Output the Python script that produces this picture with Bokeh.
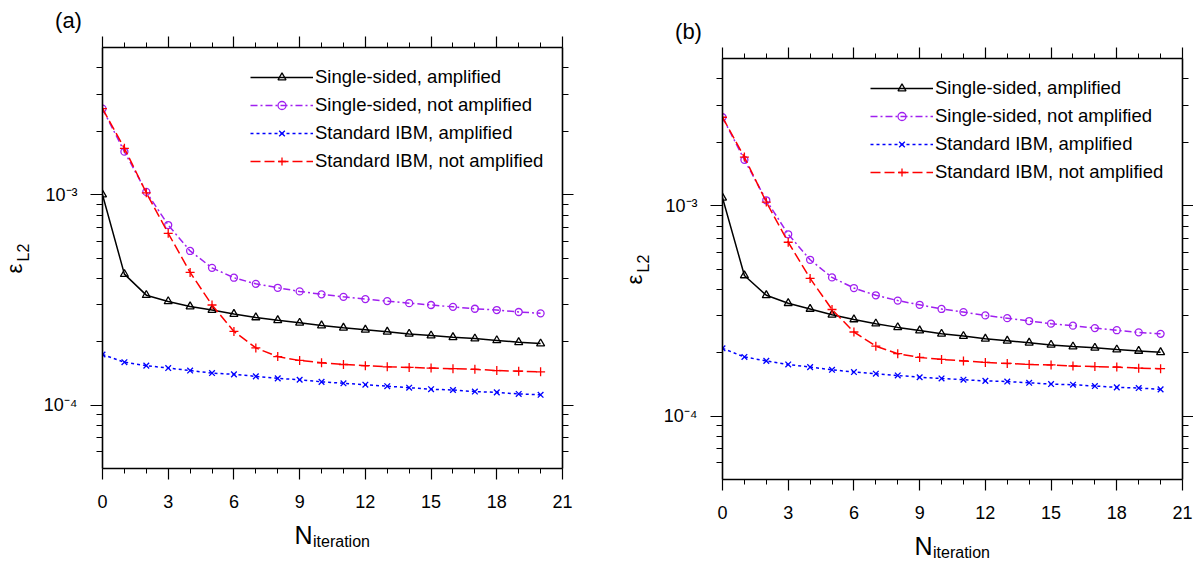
import math
from bokeh.plotting import figure
from bokeh.layouts import row
from bokeh.models import (Range1d, FixedTicker, LinearAxis, LogAxis, Label, Legend,
                          LegendItem, CustomJSTickFormatter, ColumnDataSource)
from bokeh.embed import file_html
from bokeh.resources import INLINE

# ---------------- data ----------------
n_iter = list(range(21))

# panel (a)
a_single_amp = [1.00e-3, 4.19e-4, 3.33e-4, 3.11e-4, 2.94e-4, 2.83e-4, 2.71e-4, 2.61e-4, 2.53e-4,
                2.46e-4, 2.39e-4, 2.33e-4, 2.28e-4, 2.23e-4, 2.18e-4, 2.14e-4, 2.10e-4, 2.07e-4,
                2.03e-4, 1.99e-4, 1.96e-4]
a_single_not = [2.56e-3, 1.60e-3, 1.03e-3, 7.17e-4, 5.40e-4, 4.49e-4, 4.03e-4, 3.77e-4, 3.61e-4,
                3.47e-4, 3.36e-4, 3.27e-4, 3.19e-4, 3.12e-4, 3.05e-4, 2.99e-4, 2.93e-4, 2.87e-4,
                2.83e-4, 2.77e-4, 2.73e-4]
a_ibm_amp = [1.74e-4, 1.60e-4, 1.54e-4, 1.50e-4, 1.46e-4, 1.42e-4, 1.40e-4, 1.37e-4, 1.34e-4,
             1.32e-4, 1.29e-4, 1.27e-4, 1.25e-4, 1.23e-4, 1.21e-4, 1.19e-4, 1.18e-4, 1.16e-4,
             1.15e-4, 1.13e-4, 1.12e-4]
a_ibm_not = [2.56e-3, 1.66e-3, 1.02e-3, 6.55e-4, 4.27e-4, 2.99e-4, 2.24e-4, 1.87e-4, 1.70e-4,
             1.63e-4, 1.59e-4, 1.56e-4, 1.54e-4, 1.52e-4, 1.51e-4, 1.50e-4, 1.49e-4, 1.48e-4,
             1.46e-4, 1.45e-4, 1.44e-4]

# panel (b)
b_single_amp = [1.09e-3, 4.66e-4, 3.75e-4, 3.44e-4, 3.23e-4, 3.03e-4, 2.88e-4, 2.75e-4, 2.64e-4,
                2.55e-4, 2.46e-4, 2.40e-4, 2.33e-4, 2.28e-4, 2.23e-4, 2.18e-4, 2.14e-4, 2.11e-4,
                2.07e-4, 2.04e-4, 2.01e-4]
b_single_not = [2.63e-3, 1.65e-3, 1.06e-3, 7.31e-4, 5.53e-4, 4.56e-4, 4.06e-4, 3.75e-4, 3.54e-4,
                3.38e-4, 3.23e-4, 3.12e-4, 3.01e-4, 2.92e-4, 2.83e-4, 2.75e-4, 2.69e-4, 2.62e-4,
                2.56e-4, 2.50e-4, 2.46e-4]
b_ibm_amp = [2.10e-4, 1.91e-4, 1.83e-4, 1.76e-4, 1.71e-4, 1.66e-4, 1.62e-4, 1.59e-4, 1.56e-4,
             1.53e-4, 1.51e-4, 1.49e-4, 1.47e-4, 1.46e-4, 1.44e-4, 1.42e-4, 1.41e-4, 1.39e-4,
             1.37e-4, 1.36e-4, 1.34e-4]
b_ibm_not = [2.63e-3, 1.70e-3, 1.04e-3, 6.70e-4, 4.51e-4, 3.21e-4, 2.51e-4, 2.15e-4, 1.98e-4,
             1.90e-4, 1.86e-4, 1.83e-4, 1.80e-4, 1.78e-4, 1.76e-4, 1.75e-4, 1.73e-4, 1.72e-4,
             1.71e-4, 1.69e-4, 1.68e-4]

series_names = ["Single-sided, amplified", "Single-sided, not amplified",
                "Standard IBM, amplified", "Standard IBM, not amplified"]
panel_labels = ["(a)", "(b)"]

x_ticks = [0, 3, 6, 9, 12, 15, 18, 21]
x_minor_ticks = list(range(0, 22))
y_ticks = [1e-4, 1e-3]
y_tick_labels = ["10\u207b\u2074", "10\u207b\u00b3"]
y_minor_ticks = [6e-5, 7e-5, 8e-5, 9e-5, 2e-4, 3e-4, 4e-4, 5e-4, 6e-4, 7e-4, 8e-4, 9e-4,
                 2e-3, 3e-3, 4e-3]
x_lim = (0, 21)
y_lim = (5e-5, 5e-3)

FONT = "Liberation Sans"

styles = [
    dict(color="black", dash="solid", marker="triangle", msize=8),
    dict(color="#A020F0", dash="7 3 2 3", marker="circle", msize=7),
    dict(color="#0000FF", dash="3 3", marker="x", msize=8),
    dict(color="#FF0000", dash="10 4", marker="cross", msize=9),
]


def style_axis(ax, show_labels, tick_out_major, tick_out_minor):
    ax.axis_line_color = "black"
    ax.axis_line_width = 1.6
    ax.major_tick_line_color = "black"
    ax.minor_tick_line_color = "black"
    ax.major_tick_line_width = 1.2
    ax.minor_tick_line_width = 1.0
    ax.major_tick_in = 0
    ax.minor_tick_in = 0
    ax.major_tick_out = tick_out_major
    ax.minor_tick_out = tick_out_minor
    ax.major_label_text_font = FONT
    ax.major_label_text_color = "black"
    if show_labels:
        ax.major_label_text_font_size = "18px"
    else:
        ax.major_label_text_font_size = "0px"
        ax.major_label_standoff = 0


def add_label(p, place, x, y, text, dx, dy, size, align="left", angle=0.0):
    p.add_layout(Label(x=x, y=y, text=text, x_offset=dx, y_offset=dy, angle=angle,
                       text_align=align, text_baseline="middle",
                       text_font=FONT, text_font_size=size, text_color="black"), place)


def make_panel(series, label, width, left, right, top, bottom, places):
    p = figure(width=width, height=563, y_axis_type="log",
               x_range=Range1d(*x_lim), y_range=Range1d(*y_lim),
               output_backend="svg", toolbar_location=None,
               min_border_left=left, min_border_right=right,
               min_border_top=top, min_border_bottom=bottom)
    p.frame_align = False
    p.background_fill_color = "white"
    p.border_fill_color = "white"
    p.outline_line_color = None
    p.xgrid.visible = False
    p.ygrid.visible = False

    xt = FixedTicker(ticks=x_ticks, minor_ticks=x_minor_ticks)
    yt = FixedTicker(ticks=y_ticks, minor_ticks=y_minor_ticks)
    yfmt = CustomJSTickFormatter(args=dict(vals=y_ticks, labs=y_tick_labels), code="""
        let best = 0, bd = 1e9;
        for (let i = 0; i < vals.length; i++) {
            const d = Math.abs(Math.log10(tick) - Math.log10(vals[i]));
            if (d < bd) { bd = d; best = i; }
        }
        return labs[best];
    """)
    blank = CustomJSTickFormatter(code="return '';")

    bx = p.xaxis[0]
    bx.ticker = xt
    style_axis(bx, True, 11, 5)
    bx.major_label_standoff = 15

    ly = p.yaxis[0]
    ly.ticker = yt
    ly.formatter = yfmt
    style_axis(ly, True, 12, 6)
    ly.major_label_standoff = 13

    tx = LinearAxis(ticker=xt, formatter=blank)
    style_axis(tx, False, 11, 5)
    p.add_layout(tx, "above")

    ry = LogAxis(ticker=yt, formatter=blank)
    style_axis(ry, False, 11, 6)
    p.add_layout(ry, "right")

    items = []
    for name, vals, st in zip(series_names, series, styles):
        src = ColumnDataSource(dict(x=n_iter, y=vals))
        lr = p.line("x", "y", source=src, line_color=st["color"], line_width=1.5,
                    line_dash=st["dash"])
        sr = p.scatter("x", "y", source=src, marker=st["marker"], size=st["msize"],
                       line_color=st["color"], fill_color=None, line_width=1.3)
        items.append(LegendItem(label=name, renderers=[lr, sr]))

    leg = Legend(items=items, location=(148, 296), orientation="vertical",
                 glyph_width=63, glyph_height=20, label_height=20, label_width=10,
                 label_standoff=2, spacing=6, padding=0, margin=0,
                 border_line_color=None, background_fill_alpha=0,
                 label_text_font=FONT, label_text_font_size="18.5px",
                 label_text_color="black")
    p.add_layout(leg)

    # texts placed relative to the frame edges (data anchors + pixel offsets)
    ymid = math.sqrt(y_lim[0] * y_lim[1])
    add_label(p, places["panel"], 0, y_lim[1], label, -34, 27, "22px", align="center")
    add_label(p, places["eps"], 0, ymid, "\u03b5", -88, -15.5, "22px", angle=math.pi / 2)
    add_label(p, places["eps"], 0, ymid, "L2", -79, -3.5, "16px", angle=math.pi / 2)
    add_label(p, places["N"], 0, y_lim[0], "N", 192, -66, "25px")
    add_label(p, places["it"], 0, y_lim[0], "iteration", 210.5, -73, "16px")
    return p


p1 = make_panel([a_single_amp, a_single_not, a_ibm_amp, a_ibm_not], panel_labels[0],
                600, 102, 38, 47, 95,
                dict(panel="left", eps="above", N="right", it="below"))
p2 = make_panel([b_single_amp, b_single_not, b_ibm_amp, b_ibm_not], panel_labels[1],
                593, 122, 11, 58, 84,
                dict(panel="left", eps="above", N="left", it="below"))

layout = row(p1, p2)
open("out.html", "w").write(file_html(layout, INLINE))
